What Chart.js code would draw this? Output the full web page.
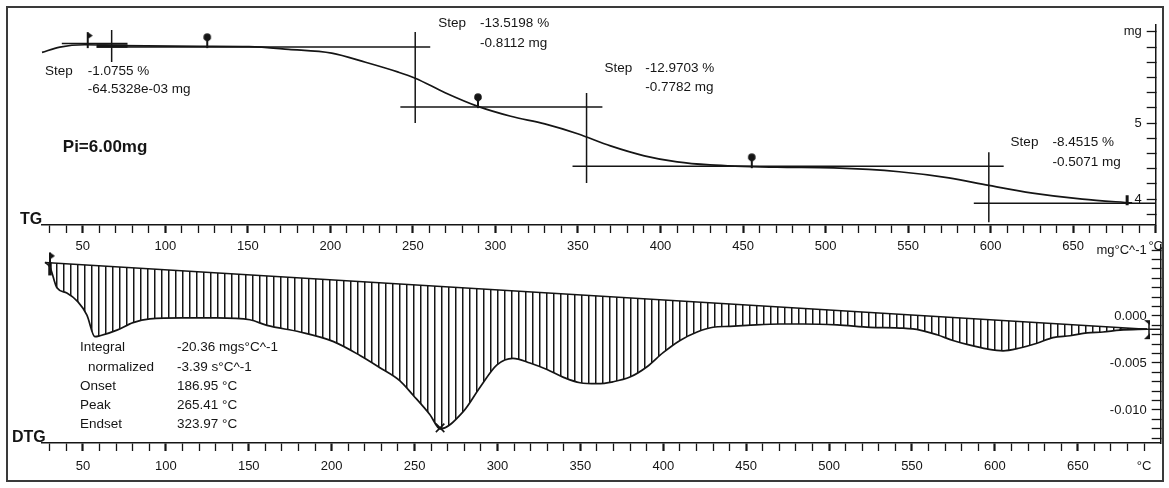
<!DOCTYPE html>
<html>
<head>
<meta charset="utf-8">
<script src="https://cdn.jsdelivr.net/npm/chart.js@4/dist/chart.umd.min.js"></script>
<style>
  html, body { margin: 0; padding: 0; background: #fff; }
  #wrap { position: relative; width: 1169px; height: 488px; overflow: hidden; background: #fff; }
  #wrap canvas { position: absolute; left: 0; top: 0; }
  #frame { position: absolute; left: 6px; top: 6px; width: 1154px; height: 472px; border: 2px solid #3a3a3a; }
</style>
</head>
<body>
<div id="wrap">
  <div id="frame"></div>
  <canvas id="chartTG" width="1169" height="488"></canvas>
  <canvas id="chartDTG" width="1169" height="488"></canvas>
</div>
<script>
// TG 曲線 (°C, mg)
var tgTemp = [25.3, 36.1, 51.2, 72.3, 120.6, 150.7, 174.8, 200.8, 221.3, 241.2, 251.4, 269.5, 289.4, 309.3, 329.9, 349.8, 369.7, 390.2, 410.1, 430.0, 470.4, 504.8, 544.6, 574.7, 598.9, 625.4, 655.6, 685.7];
var tgMass = [5.93, 6.0, 6.03, 6.02, 6.01, 6.005, 5.97, 5.92, 5.80, 5.67, 5.59, 5.40, 5.22, 5.09, 4.99, 4.86, 4.70, 4.57, 4.49, 4.45, 4.42, 4.41, 4.36, 4.28, 4.18, 4.08, 4.00, 3.95];

// step 切線: 水平 [T1, T2, mg], 垂直 [T, mg1, mg2]
var tgLevels = [[37.3, 77.1, 6.046], [58.4, 260.5, 6.0], [242.4, 364.8, 5.211], [346.7, 607.9, 4.434], [589.8, 700, 3.947]];
var tgCuts = [[67.5, 6.224, 5.803], [251.4, 6.197, 5.0], [355.2, 5.395, 4.211], [598.9, 4.618, 3.697]];
var tgMarkT = [53.0, 125.4, 289.4, 455.3, 682.7];
var tgMarkM = [6.026, 6.013, 5.224, 4.434, 3.987];

// DTG 曲線 (°C, mg°C^-1)
var dtgTemp = [27.1, 30.1, 34.3, 40.3, 47.0, 52.4, 57.2, 60.3, 70.5, 80.2, 90.4, 110.3, 130.8, 150.7, 161.0, 180.9, 200.8, 217.1, 229.1, 241.2, 249.0, 259.3, 265.4, 279.2, 289.4, 299.7, 309.3, 319.6, 329.9, 339.5, 349.8, 360.0, 369.7, 379.9, 390.2, 399.9, 410.1, 420.4, 430.0, 440.2, 450.5, 470.4, 484.3, 504.8, 524.7, 544.6, 554.8, 565.1, 574.7, 585.0, 595.2, 604.9, 615.1, 625.4, 635.0, 645.3, 655.6, 665.2, 675.5, 691.7];
var dtgRate = [0.0057, 0.0052, 0.0030, 0.00245, 0.0015, 0.0001, -0.0022, -0.0021, -0.0015, -0.0007, -0.0003, -0.0002, -0.0002, -0.0004, -0.001, -0.0017, -0.0027, -0.0042, -0.0055, -0.0069, -0.0084, -0.0105, -0.0120, -0.0102, -0.0076, -0.0052, -0.0045, -0.0050, -0.0057, -0.0065, -0.0071, -0.0072, -0.0070, -0.0065, -0.0054, -0.0039, -0.0026, -0.0017, -0.0012, -0.0011, -0.0010, -0.00085, -0.00085, -0.00095, -0.0012, -0.0013, -0.0015, -0.0020, -0.0026, -0.0031, -0.0035, -0.0037, -0.0034, -0.0029, -0.0023, -0.0021, -0.0018, -0.0017, -0.0015, -0.0014];
var dtgBaseT = [27.1, 691.7];
var dtgBaseV = [0.0057, -0.0014];
var dtgEndT = [675, 700];
var dtgEndV = [-0.0014, -0.0014];
var dtgMarkT = [30.1, 265.4, 691.7];
var dtgMarkV = [0.0057, -0.0119, -0.0014];

// 刻度
var xLabels = [50, 100, 150, 200, 250, 300, 350, 400, 450, 500, 550, 600, 650];
var tgYLabels = { '6.2': 'mg', '5': '5', '4': '4' };
var dtgYLabels = { '0.007': 'mg°C^-1', '0': '0.000', '-0.005': '-0.005', '-0.01': '-0.010' };

// 文字
var tgNotes = [
  [27.1, 5.684, 'Step'], [53.0, 5.684, '-1.0755 %'], [53.0, 5.447, '-64.5328e-03 mg'],
  [265.3, 6.316, 'Step'], [290.7, 6.316, '-13.5198 %'], [290.7, 6.053, '-0.8112 mg'],
  [366.0, 5.724, 'Step'], [390.8, 5.724, '-12.9703 %'], [390.8, 5.474, '-0.7782 mg'],
  [612.1, 4.75, 'Step'], [637.5, 4.75, '-8.4515 %'], [637.5, 4.487, '-0.5071 mg']
];
var tgBold = [[37.9, 4.684, 'Pi=6.00mg', 17], [12.0, 3.737, 'TG', 16]];
var dtgNotes = [
  [48.2, -0.0033, 'Integral'], [106.7, -0.0033, '-20.36 mgs°C^-1'],
  [53.0, -0.00543, 'normalized'], [106.7, -0.00543, '-3.39 s°C^-1'],
  [48.2, -0.00745, 'Onset'], [106.7, -0.00745, '186.95 °C'],
  [48.2, -0.00947, 'Peak'], [106.7, -0.00947, '265.41 °C'],
  [48.2, -0.01149, 'Endset'], [106.7, -0.01149, '323.97 °C']
];
var dtgBold = [[7.2, -0.01298, 'DTG', 16]];

var FONT = '"Liberation Sans", Arial, sans-serif';
var INK = '#151515';
Chart.defaults.font.family = FONT;
Chart.defaults.font.size = 13;
Chart.defaults.color = INK;

function pts(xs, ys) {
  return xs.map(function (x, i) { return { x: x, y: ys[i] }; });
}

function range(a, b, step) {
  var out = [];
  for (var i = 0; a + i * step <= b + 1e-9; i++) out.push(Math.round((a + i * step) * 10000) / 10000);
  return out;
}

// 小圖示 (marker)
function icon(w, h, draw) {
  var c = document.createElement('canvas');
  c.width = w; c.height = h;
  var g = c.getContext('2d');
  g.strokeStyle = INK; g.fillStyle = INK;
  draw(g);
  return c;
}
var lolly = icon(12, 28, function (g) {
  g.lineWidth = 2;
  g.beginPath(); g.moveTo(6, 5); g.lineTo(6, 16); g.stroke();
  g.beginPath(); g.arc(6, 5, 3.8, 0, Math.PI * 2); g.fill();
  g.beginPath(); g.moveTo(2.5, 6); g.lineTo(9.5, 6); g.lineTo(6, 10.5); g.closePath(); g.fill();
});
var flagTG = icon(12, 32, function (g) {
  g.lineWidth = 2;
  g.beginPath(); g.moveTo(6, 3); g.lineTo(6, 19); g.stroke();
  g.beginPath(); g.moveTo(6, 3); g.lineTo(11, 6.5); g.lineTo(6, 10); g.closePath(); g.fill();
});
var flagDTG = icon(12, 30, function (g) {
  g.lineWidth = 2;
  g.beginPath(); g.moveTo(6, 5); g.lineTo(6, 15); g.stroke();
  g.lineWidth = 3.5;
  g.beginPath(); g.moveTo(6, 15); g.lineTo(6, 28); g.stroke();
  g.beginPath(); g.moveTo(6, 5); g.lineTo(11, 8.5); g.lineTo(6, 12); g.closePath(); g.fill();
});
var endDTG = icon(12, 30, function (g) {
  g.lineWidth = 1.5;
  g.beginPath(); g.moveTo(8, 6); g.lineTo(8, 24); g.stroke();
  g.beginPath(); g.moveTo(3, 6); g.lineTo(9, 6); g.lineTo(9, 11); g.closePath(); g.fill();
  g.beginPath(); g.moveTo(9, 19); g.lineTo(9, 25); g.lineTo(3, 25); g.closePath(); g.fill();
});

// 直線剖面線
function hatch(canvasId) {
  var c = document.createElement('canvas');
  c.width = 7; c.height = 4;
  var g = c.getContext('2d');
  g.fillStyle = '#151515'; g.fillRect(0, 0, 1, 4);
  g.fillStyle = 'rgba(0,0,0,0.45)'; g.fillRect(1, 0, 1, 4);
  return document.getElementById(canvasId).getContext('2d').createPattern(c, 'repeat');
}

function textPlugin(notes, bold) {
  return {
    id: 'notes',
    afterDatasetsDraw: function (chart) {
      var ctx = chart.ctx, sx = chart.scales.x, sy = chart.scales.y;
      ctx.save();
      ctx.fillStyle = INK;
      ctx.textBaseline = 'middle';
      ctx.textAlign = 'left';
      ctx.font = '13.5px ' + FONT;
      notes.forEach(function (n) { ctx.fillText(n[2], sx.getPixelForValue(n[0]), sy.getPixelForValue(n[1])); });
      bold.forEach(function (n) {
        ctx.font = 'bold ' + n[3] + 'px ' + FONT;
        ctx.fillText(n[2], sx.getPixelForValue(n[0]), sy.getPixelForValue(n[1]));
      });
      ctx.restore();
    }
  };
}

function lineSet(data, width) {
  return { data: data, borderColor: INK, borderWidth: width || 1.5, pointRadius: 0, fill: false };
}

function xAxis(tickVals, pad, extra) {
  return {
    type: 'linear', min: 25, max: 700,
    afterBuildTicks: function (s) { s.ticks = tickVals.map(function (v) { return { value: v }; }); },
    afterFit: function (s) { s.height = 30; },
    border: { color: INK, width: 1.5 },
    grid: {
      drawOnChartArea: false, tickLength: 8, tickColor: INK,
      tickWidth: function (c) { return c.tick && c.tick.value % 50 === 0 ? 2.2 : 1.3; }
    },
    ticks: {
      autoSkip: false, maxRotation: 0, padding: pad,
      callback: function (v) { return xLabels.indexOf(v) >= 0 ? String(v) : (extra[v] || ''); }
    }
  };
}

function yAxis(min, max, tickVals, labels) {
  return {
    type: 'linear', position: 'right', min: min, max: max,
    afterBuildTicks: function (s) { s.ticks = tickVals.map(function (v) { return { value: v }; }); },
    afterFit: function (s) { s.width = 0; },
    border: { color: INK, width: 1.5 },
    grid: { drawOnChartArea: false, tickLength: -9, tickColor: INK, tickWidth: 1.3 },
    ticks: {
      mirror: true, padding: -14, autoSkip: false,
      callback: function (v) { return labels[String(Math.round(v * 1000) / 1000)] || ''; }
    }
  };
}

var baseOpts = {
  responsive: false,
  animation: false,
  devicePixelRatio: 1,
  plugins: { legend: { display: false }, tooltip: { enabled: false } }
};

function initTG() {
  var sets = [];
  sets.push(Object.assign(lineSet(pts(tgTemp, tgMass), 1.7), { cubicInterpolationMode: 'monotone' }));
  tgLevels.forEach(function (h) { sets.push(lineSet([{ x: h[0], y: h[2] }, { x: h[1], y: h[2] }])); });
  tgCuts.forEach(function (v) { sets.push(lineSet([{ x: v[0], y: v[1] }, { x: v[0], y: v[2] }])); });
  sets.push(lineSet([{ x: 58.4, y: 6.013 }, { x: 77.1, y: 6.013 }], 3.5));
  sets.push({
    data: pts(tgMarkT, tgMarkM), showLine: false,
    pointStyle: [flagTG, lolly, lolly, lolly, 'line'], rotation: [0, 0, 0, 0, 90],
    pointRadius: 5, borderColor: INK, borderWidth: 3, backgroundColor: INK
  });
  new Chart(document.getElementById('chartTG'), {
    type: 'line',
    data: { datasets: sets },
    options: Object.assign({}, baseOpts, {
      layout: { padding: { left: 41.5, right: 8.3, top: 25, bottom: 233 } },
      scales: {
        x: xAxis(range(30, 700, 10), 6, { 700: '°C' }),
        y: yAxis(3.66, 6.29, range(3.8, 6.2, 0.2), tgYLabels)
      }
    }),
    plugins: [textPlugin(tgNotes, tgBold)]
  });
}

function initDTG() {
  var sets = [];
  sets.push(Object.assign(lineSet(pts(dtgTemp, dtgRate), 1.7), {
    cubicInterpolationMode: 'monotone', fill: '+1', backgroundColor: hatch('chartDTG')
  }));
  sets.push(lineSet(pts(dtgBaseT, dtgBaseV), 1.5));
  sets.push(lineSet(pts(dtgEndT, dtgEndV), 1.5));
  sets.push({
    data: pts(dtgMarkT, dtgMarkV), showLine: false,
    pointStyle: [flagDTG, 'crossRot', endDTG], pointRadius: 6,
    borderColor: INK, borderWidth: 1.6, backgroundColor: INK
  });
  new Chart(document.getElementById('chartDTG'), {
    type: 'line',
    data: { datasets: sets },
    options: Object.assign({}, baseOpts, {
      layout: { padding: { left: 41.5, right: 8.3, top: 245, bottom: 15 } },
      scales: {
        x: xAxis(range(30, 690, 10), 8, { 690: '°C' }),
        y: yAxis(-0.013511, 0.007553, range(-0.013, 0.007, 0.001), dtgYLabels)
      }
    }),
    plugins: [textPlugin(dtgNotes, dtgBold)]
  });
}

initTG();
initDTG();
</script>
</body>
</html>
